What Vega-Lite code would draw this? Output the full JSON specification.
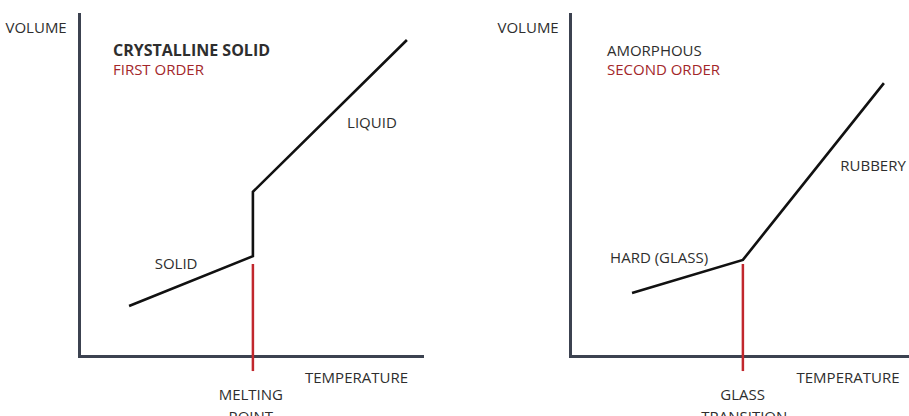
{
  "$schema": "https://vega.github.io/schema/vega-lite/v6.json",
  "background": "white",
  "padding": {"left": 5, "top": 14, "right": 0, "bottom": 0},
  "bounds": "flush",
  "spacing": 148,
  "config": {
    "view": {"stroke": null},
    "axis": {
      "domainColor": "#3c4250",
      "domainWidth": 3,
      "domainCap": "square",
      "ticks": false,
      "labels": false,
      "grid": false,
      "titleFont": "Open Sans",
      "titleFontSize": 15,
      "titleFontWeight": 500,
      "titleColor": "#2e2e2e",
      "titleBaseline": "middle"
    },
    "text": {"font": "Open Sans", "fontSize": 15, "fontWeight": 500, "baseline": "middle"}
  },
  "datasets": {
    "crystal_curve": [
      {"temperature": 14.6, "volume": 14.6, "step": 1},
      {"temperature": 50.7, "volume": 29.2, "step": 2},
      {"temperature": 50.7, "volume": 48.0, "step": 3},
      {"temperature": 95.6, "volume": 92.4, "step": 4}
    ],
    "crystal_transition": [
      {"temperature": 50.7, "volume_top": 26.9, "volume_bottom": -4.4}
    ],
    "crystal_headers": [
      {"temperature": 9.9, "volume": 89.2, "label": "CRYSTALLINE SOLID", "role": "material"},
      {"temperature": 9.9, "volume": 83.6, "label": "FIRST ORDER", "role": "order"}
    ],
    "crystal_notes": [
      {"temperature": 85.4, "volume": 68.1, "label": "LIQUID", "role": "material"},
      {"temperature": 28.3, "volume": 26.9, "label": "SOLID", "role": "material"},
      {"temperature": 50.1, "volume": -11.4, "label": "MELTING", "role": "material"},
      {"temperature": 50.1, "volume": -17.8, "label": "POINT", "role": "material"}
    ],
    "amorphous_curve": [
      {"temperature": 18.3, "volume": 18.4, "step": 1},
      {"temperature": 51.0, "volume": 28.1, "step": 2},
      {"temperature": 92.6, "volume": 79.8, "step": 3}
    ],
    "amorphous_transition": [
      {"temperature": 51.0, "volume_top": 26.9, "volume_bottom": -4.4}
    ],
    "amorphous_headers": [
      {"temperature": 10.9, "volume": 89.2, "label": "AMORPHOUS", "role": "material"},
      {"temperature": 10.9, "volume": 83.6, "label": "SECOND ORDER", "role": "order"}
    ],
    "amorphous_notes": [
      {"temperature": 89.4, "volume": 55.6, "label": "RUBBERY", "role": "material"},
      {"temperature": 26.3, "volume": 28.7, "label": "HARD (GLASS)", "role": "material"},
      {"temperature": 50.9, "volume": -11.4, "label": "GLASS", "role": "material"},
      {"temperature": 51.4, "volume": -17.8, "label": "TRANSITION", "role": "material"}
    ]
  },
  "hconcat": [
    {
      "width": 343,
      "height": 342,
      "layer": [
        {
          "data": {"name": "crystal_curve"},
          "mark": {"type": "line", "color": "#111111", "strokeWidth": 2.6},
          "encoding": {
            "x": {"field": "temperature", "type": "quantitative", "scale": {"domain": [0, 100], "nice": false, "zero": false},
              "axis": {"title": "TEMPERATURE", "titleX": 277, "titleY": 21, "titleAlign": "center"}},
            "y": {"field": "volume", "type": "quantitative", "scale": {"domain": [0, 100], "nice": false, "zero": false},
              "axis": {"title": "VOLUME", "titleAngle": 0, "titleX": -74, "titleY": 13, "titleAlign": "left"}},
            "order": {"field": "step", "type": "quantitative"}
          }
        },
        {
          "data": {"name": "crystal_transition"},
          "mark": {"type": "rule", "color": "#c1272d", "strokeWidth": 2.5},
          "encoding": {
            "x": {"field": "temperature", "type": "quantitative"},
            "y": {"field": "volume_top", "type": "quantitative"},
            "y2": {"field": "volume_bottom"}
          }
        },
        {
          "data": {"name": "crystal_headers"},
          "transform": [{"filter": "datum.role === 'material'"}],
          "mark": {"type": "text", "align": "left", "fontWeight": "bold", "fontSize": 16},
          "encoding": {
            "x": {"field": "temperature", "type": "quantitative"},
            "y": {"field": "volume", "type": "quantitative"},
            "text": {"field": "label"},
            "color": {"field": "role", "type": "nominal", "scale": {"domain": ["material", "order"], "range": ["#2e2e2e", "#a3262a"]}, "legend": null}
          }
        },
        {
          "data": {"name": "crystal_headers"},
          "transform": [{"filter": "datum.role === 'order'"}],
          "mark": {"type": "text", "align": "left"},
          "encoding": {
            "x": {"field": "temperature", "type": "quantitative"},
            "y": {"field": "volume", "type": "quantitative"},
            "text": {"field": "label"},
            "color": {"field": "role", "type": "nominal", "scale": {"domain": ["material", "order"], "range": ["#2e2e2e", "#a3262a"]}, "legend": null}
          }
        },
        {
          "data": {"name": "crystal_notes"},
          "mark": {"type": "text", "align": "center"},
          "encoding": {
            "x": {"field": "temperature", "type": "quantitative"},
            "y": {"field": "volume", "type": "quantitative"},
            "text": {"field": "label"},
            "color": {"field": "role", "type": "nominal", "scale": {"domain": ["material", "order"], "range": ["#2e2e2e", "#a3262a"]}, "legend": null}
          }
        }
      ]
    },
    {
      "width": 339,
      "height": 342,
      "layer": [
        {
          "data": {"name": "amorphous_curve"},
          "mark": {"type": "line", "color": "#111111", "strokeWidth": 2.6},
          "encoding": {
            "x": {"field": "temperature", "type": "quantitative", "scale": {"domain": [0, 100], "nice": false, "zero": false},
              "axis": {"title": "TEMPERATURE", "titleX": 277.5, "titleY": 21, "titleAlign": "center"}},
            "y": {"field": "volume", "type": "quantitative", "scale": {"domain": [0, 100], "nice": false, "zero": false},
              "axis": {"title": "VOLUME", "titleAngle": 0, "titleX": -73, "titleY": 13, "titleAlign": "left"}},
            "order": {"field": "step", "type": "quantitative"}
          }
        },
        {
          "data": {"name": "amorphous_transition"},
          "mark": {"type": "rule", "color": "#c1272d", "strokeWidth": 2.5},
          "encoding": {
            "x": {"field": "temperature", "type": "quantitative"},
            "y": {"field": "volume_top", "type": "quantitative"},
            "y2": {"field": "volume_bottom"}
          }
        },
        {
          "data": {"name": "amorphous_headers"},
          "mark": {"type": "text", "align": "left"},
          "encoding": {
            "x": {"field": "temperature", "type": "quantitative"},
            "y": {"field": "volume", "type": "quantitative"},
            "text": {"field": "label"},
            "color": {"field": "role", "type": "nominal", "scale": {"domain": ["material", "order"], "range": ["#2e2e2e", "#a3262a"]}, "legend": null}
          }
        },
        {
          "data": {"name": "amorphous_notes"},
          "mark": {"type": "text", "align": "center"},
          "encoding": {
            "x": {"field": "temperature", "type": "quantitative"},
            "y": {"field": "volume", "type": "quantitative"},
            "text": {"field": "label"},
            "color": {"field": "role", "type": "nominal", "scale": {"domain": ["material", "order"], "range": ["#2e2e2e", "#a3262a"]}, "legend": null}
          }
        }
      ]
    }
  ]
}
